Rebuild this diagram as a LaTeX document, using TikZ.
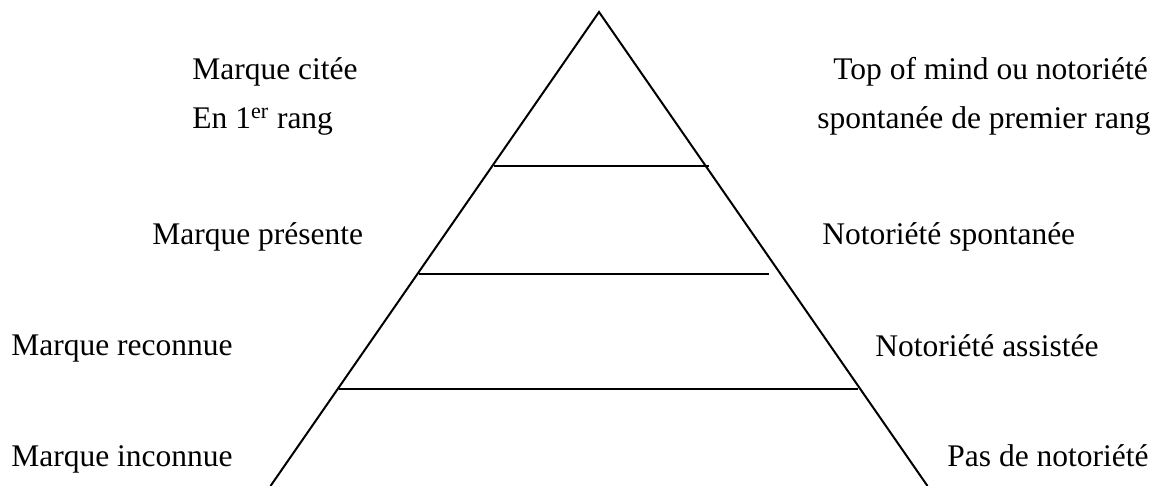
\documentclass[tikz,border=0pt]{standalone}
\usepackage{fontspec}
\setmainfont{Liberation Serif}
\begin{document}
\begin{tikzpicture}[x=0.5pt,y=-0.5pt,
  lbl/.style={anchor=base west, inner sep=0pt, font=\fontsize{15.75pt}{18pt}\selectfont},
  edge/.style={line width=1pt, line join=miter},
  level/.style={line width=1.1pt}]
\useasboundingbox (0,0) rectangle (1161,486);
% pyramid
\coordinate (apex) at (599,12);
\coordinate (bl) at (270.5,486);
\coordinate (br) at (927.5,486);
\draw[edge] (bl) -- (apex) -- (br);
% level separators
\coordinate (l1a) at (494,166);
\coordinate (l1b) at (709,166);
\coordinate (l2a) at (419,274);
\coordinate (l2b) at (769,274);
\coordinate (l3a) at (339,389);
\coordinate (l3b) at (858,389);
\draw[level] (l1a) -- (l1b);
\draw[level] (l2a) -- (l2b);
\draw[level] (l3a) -- (l3b);
% labels
\node[lbl] (citee) at (192,80) {Marque citée};
\node[lbl] (rang1) at (192,129) {En 1\textsuperscript{er} rang};
\node[lbl] (top) at (833,80) {Top of mind ou notoriété};
\node[lbl] (spont1) at (817,129) {spontanée de premier rang};
\node[lbl] (presente) at (152,245) {Marque présente};
\node[lbl] (nspont) at (822,245) {Notoriété spontanée};
\node[lbl] (reconnue) at (11,355) {Marque reconnue};
\node[lbl] (assistee) at (875,356) {Notoriété assistée};
\node[lbl] (inconnue) at (11,466) {Marque inconnue};
\node[lbl] (pas) at (947,466) {Pas de notoriété};
\end{tikzpicture}
\end{document}
